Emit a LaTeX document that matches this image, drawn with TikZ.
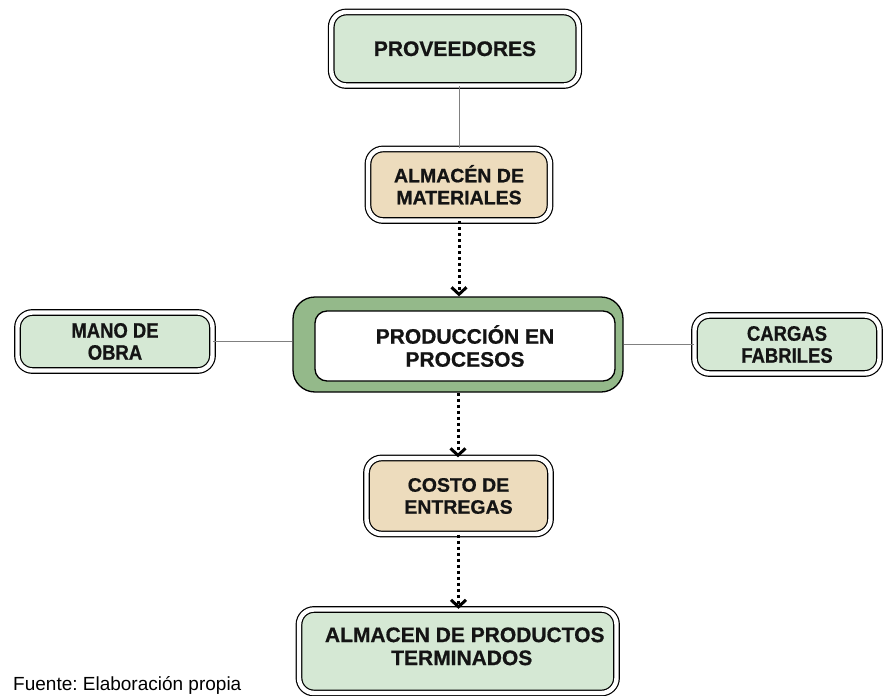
\documentclass[tikz,border=0pt]{standalone}
\usepackage{fontspec}
\setmainfont{Liberation Sans}[BoldFeatures={FakeBold=0.7}]
\newfontfamily\condfont[FakeStretch=0.88,BoldFeatures={FakeBold=0.7}]{Liberation Sans}
\usetikzlibrary{arrows.meta}
\definecolor{boxgreen}{HTML}{D5E8D4}
\definecolor{boxbeige}{HTML}{EDDCBD}
\definecolor{framegreen}{HTML}{94B98A}
\definecolor{linkgray}{HTML}{808080}
\frenchspacing
\begin{document}
\begin{tikzpicture}[x=1pt,y=-1pt,
  dbox/.style={draw=black, line width=1.2pt, double=white, double distance=4.4pt,
    rounded corners=15pt, align=center, inner sep=0pt, text=black!92},
  greenbox/.style={dbox, fill=boxgreen},
  beigebox/.style={dbox, fill=boxbeige},
  bigtext/.style={font=\fontsize{21}{23}\bfseries\selectfont},
  midtext/.style={font=\fontsize{19.5}{22}\bfseries\selectfont},
  condtext/.style={font=\fontsize{21}{22}\condfont\bfseries\selectfont},
  frame/.style={draw=black, line width=1.3pt, fill=framegreen, rounded corners=22pt, inner sep=0pt},
  whitebox/.style={draw=black, line width=1.3pt, fill=white, rounded corners=12pt, align=center, inner sep=0pt, text=black!92},
  link/.style={draw=linkgray, line width=1pt},
  flow/.style={draw=black, line width=3pt, dash pattern=on 3pt off 3pt,
    -{Straight Barb[length=7pt,width=15pt,line width=3pt]}},
]
\useasboundingbox (0,0) rectangle (884,696);

\node[greenbox, bigtext, minimum width=247.5pt, minimum height=73.5pt] (prov) at (455,48.75) {PROVEEDORES};
\node[beigebox, midtext, minimum width=182pt, minimum height=71.5pt] (alm) at (459,184.75) {ALMACÉN DE\\MATERIALES};
\node[frame, minimum width=330pt, minimum height=95pt] (prodframe) at (458,344.5) {};
\node[whitebox, bigtext, minimum width=300pt, minimum height=70pt] (prod) at (465,346) {PRODUCCIÓN EN\\PROCESOS};
\node[greenbox, condtext, minimum width=195pt, minimum height=58pt] (mano) at (115,341.5) {MANO DE\\OBRA};
\node[greenbox, condtext, minimum width=185pt, minimum height=58pt] (cargas) at (787,344.5) {CARGAS\\FABRILES};
\node[beigebox, midtext, minimum width=184pt, minimum height=76pt] (costo) at (458.5,496) {COSTO DE\\ENTREGAS};
\node[greenbox, bigtext, minimum width=317.5pt, minimum height=83.5pt, text depth=10pt] (almprod) at (457.75,651.25) {\hspace*{14pt}ALMACEN DE PRODUCTOS\\\hspace*{8pt}TERMINADOS};

\node[anchor=base west, font=\fontsize{19}{22}\selectfont, inner sep=0pt] (fuente) at (13,690) {Fuente: Elaboración propia};

\draw[link] (alm.north |- prov.south) -- (alm.north);
\draw[link] (mano.east) -- (mano.east -| prodframe.west);
\draw[link] (cargas.west) -- (cargas.west -| prodframe.east);
\draw[flow] (alm.south) -- (alm.south |- prodframe.north);
\draw[flow] (prodframe.south) -- (prodframe.south |- costo.north);
\draw[flow] (costo.south) -- (costo.south |- almprod.north);
\end{tikzpicture}
\end{document}
